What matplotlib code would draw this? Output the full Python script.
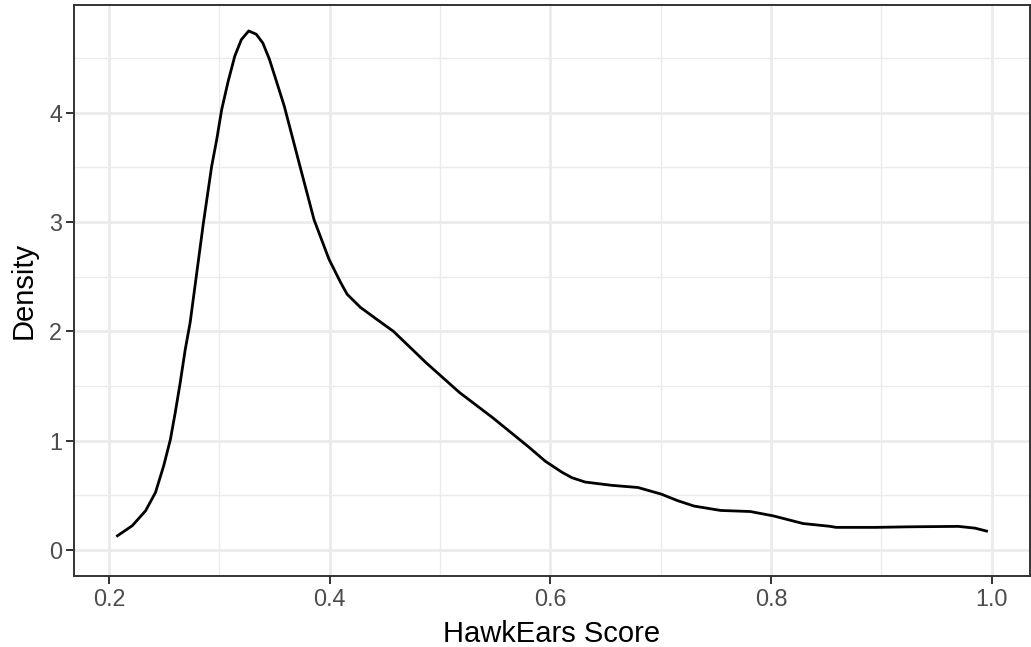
import numpy as np
import matplotlib
matplotlib.use("Agg")
import matplotlib.pyplot as plt
from matplotlib.ticker import MultipleLocator

plt.rcParams['font.family'] = ['Liberation Sans', 'DejaVu Sans']

# density curve
score = [0.2075, 0.2209, 0.2330, 0.2420, 0.2494, 0.2555, 0.2599, 0.2644,
         0.2689, 0.2734, 0.2854, 0.2929, 0.2974, 0.302, 0.3079, 0.3139,
         0.3198, 0.3265, 0.3333, 0.3393, 0.3453, 0.3513, 0.3588, 0.3663,
         0.3738, 0.3858, 0.3993, 0.4097, 0.4157, 0.4277, 0.4412, 0.4577,
         0.4876, 0.5176, 0.5476, 0.5805, 0.5955, 0.6105, 0.6195, 0.6315,
         0.6555, 0.6794, 0.7004, 0.7153, 0.7303, 0.7543, 0.7813, 0.8022,
         0.8292, 0.8532, 0.8591, 0.8951, 0.925, 0.970, 0.985, 0.9955]
density = [0.128, 0.22, 0.357, 0.525, 0.768, 1.01, 1.256, 1.53,
           1.83, 2.08, 2.99, 3.51, 3.75, 4.03, 4.29, 4.52,
           4.67, 4.75, 4.72, 4.64, 4.49, 4.30, 4.06, 3.77,
           3.48, 3.02, 2.66, 2.45, 2.34, 2.22, 2.12, 2.00,
           1.71, 1.44, 1.21, 0.94, 0.81, 0.71, 0.66, 0.62,
           0.59, 0.57, 0.51, 0.45, 0.40, 0.36, 0.35, 0.31,
           0.24, 0.215, 0.205, 0.205, 0.21, 0.214, 0.198, 0.171]

x_ticks = [0.2, 0.4, 0.6, 0.8, 1.0]
y_ticks = [0, 1, 2, 3, 4]

fig = plt.figure(figsize=(10.31, 6.47), dpi=100)
ax = fig.add_axes([74 / 1031, (647 - 575.7) / 647, (1030 - 74) / 1031, (575.7 - 5) / 647])

ax.plot(score, density, color='black', lw=2, solid_joinstyle='round', zorder=3)

# ggplot-like expansion
xr = max(score) - min(score)
ax.set_xlim(min(score) - 0.05 * xr, max(score) + 0.05 * xr)
yr = max(density)
ax.set_ylim(-0.05 * yr, yr * 1.05)

ax.set_xticks(x_ticks)
ax.set_xticklabels(['0.2', '0.4', '0.6', '0.8', '1.0'])
ax.set_yticks(y_ticks)
ax.set_xticks([0.3, 0.5, 0.7, 0.9], minor=True)
ax.yaxis.set_minor_locator(MultipleLocator(0.5))

ax.grid(which='major', color='#EBEBEB', lw=2.0, zorder=0)
ax.grid(which='minor', color='#EBEBEB', lw=1.0, zorder=0)
ax.set_axisbelow(True)

ax.tick_params(which='major', length=5.5, width=1.4, color='#333333',
               labelcolor='#4D4D4D', labelsize=16.8, pad=3)
ax.tick_params(which='minor', length=0)
for s in ax.spines.values():
    s.set_color('#333333')
    s.set_linewidth(1.4)

ax.set_xlabel('HawkEars Score', fontsize=21, color='black', labelpad=6.5)
ax.set_ylabel('Density', fontsize=21, color='black', labelpad=8)

fig.savefig('out.png', dpi=100)
